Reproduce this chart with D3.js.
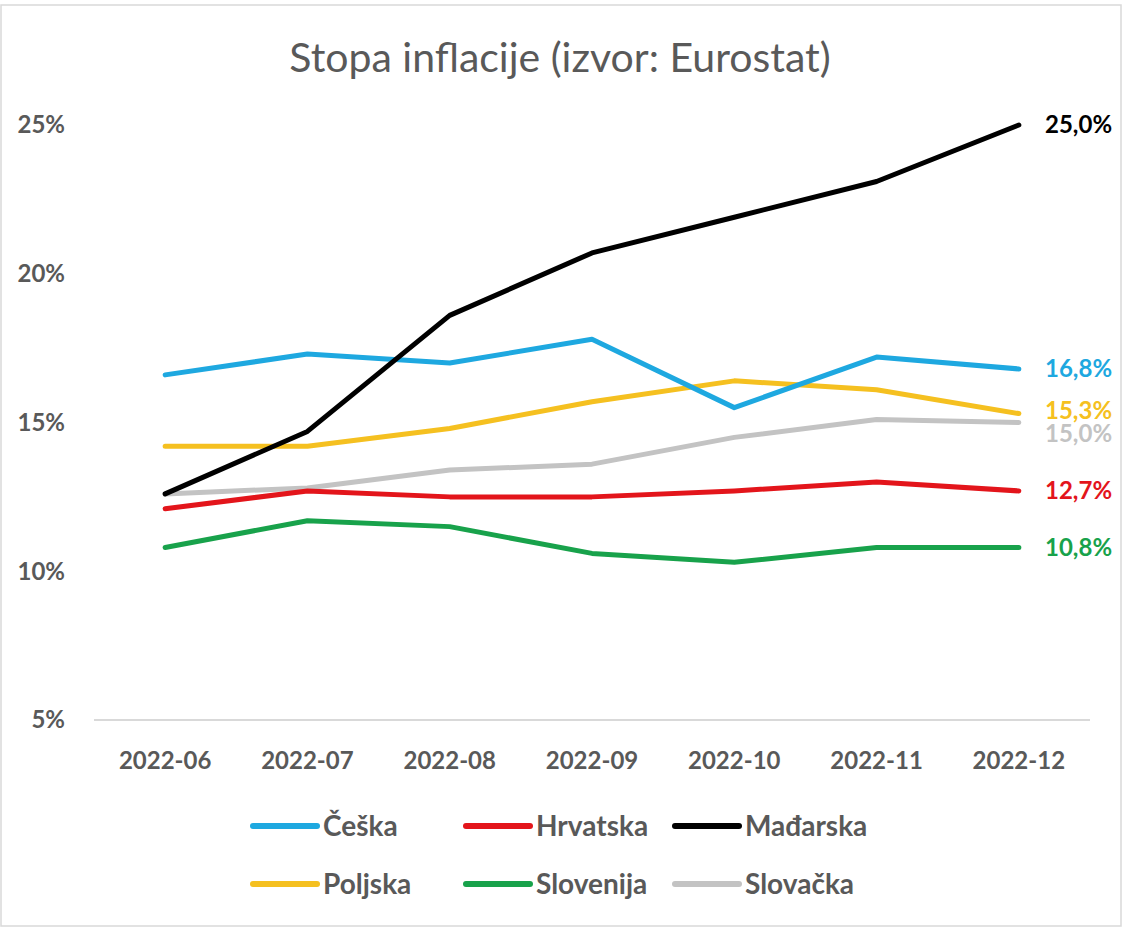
<!DOCTYPE html>
<html>
<head>
<meta charset="utf-8">
<script src="https://cdn.jsdelivr.net/npm/d3@7"></script>
<style>
  body { margin: 0; background: #fff; }
  svg { display: block; font-family: Lato, "Open Sans", sans-serif; }
</style>
</head>
<body>
<svg width="1124" height="932"></svg>
<script>
// data
const months = ['2022-06', '2022-07', '2022-08', '2022-09', '2022-10', '2022-11', '2022-12'];
const ceska     = [16.6, 17.3, 17.0, 17.8, 15.5, 17.2, 16.8];
const hrvatska  = [12.1, 12.7, 12.5, 12.5, 12.7, 13.0, 12.7];
const madarska  = [12.6, 14.7, 18.6, 20.7, 21.9, 23.1, 25.0];
const poljska   = [14.2, 14.2, 14.8, 15.7, 16.4, 16.1, 15.3];
const slovenija = [10.8, 11.7, 11.5, 10.6, 10.3, 10.8, 10.8];
const slovacka  = [12.6, 12.8, 13.4, 13.6, 14.5, 15.1, 15.0];
const yTicks = [5, 10, 15, 20, 25];

const series = [
  { name: 'Češka',     values: ceska,     color: '#1ea8e0' },
  { name: 'Hrvatska',  values: hrvatska,  color: '#e3151b' },
  { name: 'Mađarska',  values: madarska,  color: '#000000' },
  { name: 'Poljska',   values: poljska,   color: '#f5c020' },
  { name: 'Slovenija', values: slovenija, color: '#18a24b' },
  { name: 'Slovačka',  values: slovacka,  color: '#c3c3c3' }
];

const svg = d3.select("svg");
const textGray = '#595959';

// frame
svg.append("rect")
  .attr("x", 1).attr("y", 5).attr("width", 1120).attr("height", 921)
  .attr("fill", "none").attr("stroke", "#d9d9d9").attr("stroke-width", 1.5);

// title
svg.append("text")
  .attr("x", 560).attr("y", 72)
  .attr("text-anchor", "middle")
  .attr("fill", textGray)
  .style("font-size", "41px")
  .text("Stopa inflacije (izvor: Eurostat)");

// scales
const x = d3.scalePoint().domain(months).range([94, 1090]).padding(0.5);
const y = d3.scaleLinear().domain([5, 25]).range([720, 125]);

// baseline
svg.append("line")
  .attr("x1", 94).attr("x2", 1090)
  .attr("y1", y(5)).attr("y2", y(5))
  .attr("stroke", "#d9d9d9").attr("stroke-width", 2);

// y axis labels
svg.selectAll(".ytick")
  .data(yTicks)
  .enter().append("text")
  .attr("class", "ytick")
  .attr("x", 65)
  .attr("y", d => y(d))
  .attr("dy", "0.35em")
  .attr("text-anchor", "end")
  .attr("fill", textGray)
  .style("font-size", "24px")
  .style("font-weight", "bold")
  .text(d => d + "%");

// x axis labels
svg.selectAll(".xtick")
  .data(months)
  .enter().append("text")
  .attr("class", "xtick")
  .attr("x", d => x(d))
  .attr("y", 769)
  .attr("text-anchor", "middle")
  .attr("fill", textGray)
  .style("font-size", "24px")
  .style("font-weight", "bold")
  .text(d => d);

// lines
const line = d3.line()
  .x((d, i) => x(months[i]))
  .y(d => y(d));

// draw grey and lighter ones first so black sits on top like the original
const drawOrder = ['Slovačka', 'Slovenija', 'Hrvatska', 'Poljska', 'Češka', 'Mađarska'];
drawOrder.forEach(name => {
  const s = series.find(d => d.name === name);
  svg.append("path")
    .datum(s.values)
    .attr("d", line)
    .attr("fill", "none")
    .attr("stroke", s.color)
    .attr("stroke-width", 5)
    .attr("stroke-linejoin", "round")
    .attr("stroke-linecap", "round");
});

// end labels (15,3 and 15,0 nudged apart so they don't collide)
const fmt = v => v.toFixed(1).replace(".", ",") + "%";
const labelShift = { 'Slovačka': 11, 'Poljska': -3 };
series.forEach(s => {
  const last = s.values[s.values.length - 1];
  svg.append("text")
    .attr("x", 1045)
    .attr("y", y(last) + (labelShift[s.name] || 0))
    .attr("dy", "0.35em")
    .attr("fill", s.color)
    .style("font-size", "24px")
    .style("font-weight", "bold")
    .text(fmt(last));
});

// legend
const legendCols = [253, 466, 675];
const legendRows = [826, 884];
series.forEach((s, i) => {
  const lx = legendCols[i % 3];
  const ly = legendRows[Math.floor(i / 3)];
  svg.append("line")
    .attr("x1", lx).attr("x2", lx + 64)
    .attr("y1", ly).attr("y2", ly)
    .attr("stroke", s.color)
    .attr("stroke-width", 6)
    .attr("stroke-linecap", "round");
  svg.append("text")
    .attr("x", lx + 70)
    .attr("y", ly)
    .attr("dy", "0.35em")
    .attr("fill", textGray)
    .style("font-size", "28px")
    .style("font-weight", "bold")
    .text(s.name);
});
</script>
</body>
</html>
